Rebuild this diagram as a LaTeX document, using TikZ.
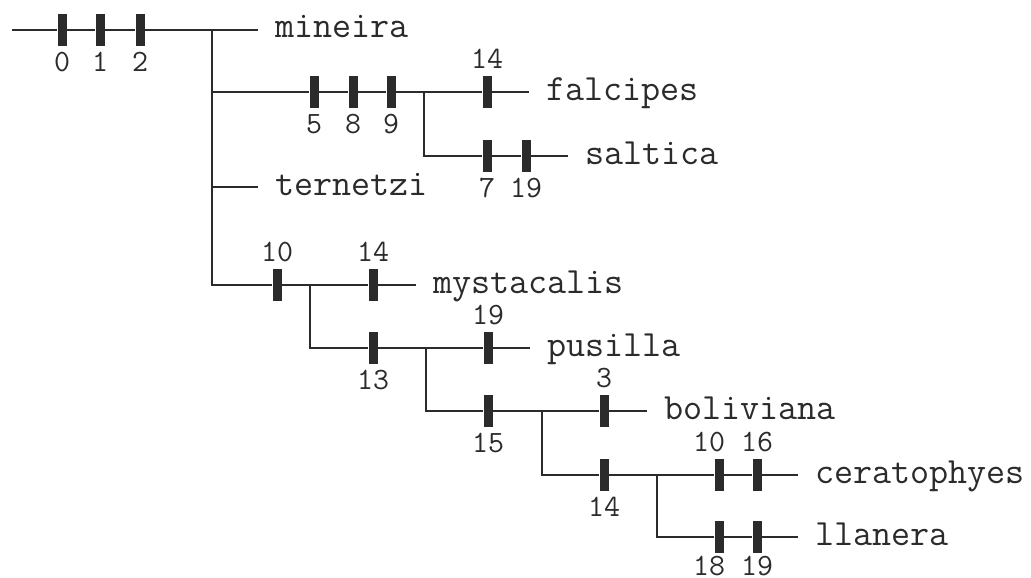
\documentclass[tikz,border=0pt]{standalone}
\usepackage{fontspec}
\definecolor{ink}{HTML}{2B2B2B}
\tikzset{
  branch/.style={draw=ink, line width=1.5pt},
  bar/.style={rectangle, fill=ink, minimum width=9pt, minimum height=32pt, inner sep=0pt},
  num/.style={font=\ttfamily\fontsize{31}{33}\selectfont, text=ink, inner sep=0pt, text depth=0pt},
  up/.style={label={[num, label distance=7pt]above:#1}},
  dn/.style={label={[num, label distance=6pt]below:#1}},
  upl/.style={label={[num, label distance=7pt, xshift=-10pt]above:#1}},
  dnlow/.style={label={[num, label distance=3pt]below:#1}},
  dnlowl/.style={label={[num, label distance=3pt, xshift=-10pt]below:#1}},
  taxon/.style={anchor=base west, font=\ttfamily\fontsize{37}{40}\selectfont, text=ink, inner xsep=17pt, inner ysep=0pt},
}
\begin{document}
\begin{tikzpicture}[x=1pt, y=-1pt]
\useasboundingbox (0,0) rectangle (1031,578);

% character-state bars
\node[bar, dn=0] (b0) at (62,30) {};
\node[bar, dn=1] (b1) at (100,30) {};
\node[bar, dn=2] (b2) at (140,30) {};

\node[bar, dn=5] (b5) at (314,92) {};
\node[bar, dn=8] (b8) at (353,92) {};
\node[bar, dn=9] (b9) at (391,92) {};
\node[bar, up=14] (b14a) at (487,92) {};

\node[bar, dn=7] (b7) at (487,156) {};
\node[bar, dn=19] (b19a) at (526,156) {};

\node[bar, up=10] (b10a) at (277,285) {};
\node[bar, up=14] (b14b) at (373,285) {};

\node[bar, dn=13] (b13) at (373,348) {};
\node[bar, up=19] (b19b) at (488,348) {};

\node[bar, dn=15] (b15) at (488,411) {};
\node[bar, up=3] (b3) at (604,411) {};

\node[bar, dn=14] (b14c) at (604,475) {};
\node[bar, upl=10] (b10b) at (719,475) {};
\node[bar, up=16] (b16) at (757,475) {};

\node[bar, dnlowl=18] (b18) at (719,537) {};
\node[bar, dnlow=19] (b19c) at (757,537) {};

% terminal taxa (baseline sits 8pt under the branch)
\node[taxon] (mineira) at (258,38) {mineira};
\node[taxon] (falcipes) at (529,100) {falcipes};
\node[taxon] (saltica) at (568,164) {saltica};
\node[taxon] (ternetzi) at (258,195) {ternetzi};
\node[taxon] (mystacalis) at (416,293) {mystacalis};
\node[taxon] (pusilla) at (530,356) {pusilla};
\node[taxon] (boliviana) at (647,419) {boliviana};
\node[taxon] (ceratophyes) at (798,483) {ceratophyes};
\node[taxon] (llanera) at (798,545) {llanera};

% branching points
\coordinate (root) at (12,30);
\coordinate (j1) at (212,30);
\coordinate (j2) at (424,92);
\coordinate (j3) at (310,285);
\coordinate (j4) at (426,348);
\coordinate (j5) at (542,411);
\coordinate (j6) at (657,475);

% branches
\draw[branch] (root) -- (b0);
\draw[branch] (b0) -- (b1);
\draw[branch] (b1) -- (b2);
\draw[branch] (b2) -- (b2 -| mineira.base west);
\draw[branch] (j1) |- (b5);
\draw[branch] (j1) |- (ternetzi.base west |- 0,187);
\draw[branch] (j1) |- (b10a);

\draw[branch] (b5) -- (b8);
\draw[branch] (b8) -- (b9);
\draw[branch] (b9) -- (b14a);
\draw[branch] (b14a) -- (b14a -| falcipes.base west);
\draw[branch] (j2) |- (b7);
\draw[branch] (b7) -- (b19a);
\draw[branch] (b19a) -- (b19a -| saltica.base west);

\draw[branch] (b10a) -- (b14b);
\draw[branch] (b14b) -- (b14b -| mystacalis.base west);
\draw[branch] (j3) |- (b13);
\draw[branch] (b13) -- (b19b);
\draw[branch] (b19b) -- (b19b -| pusilla.base west);
\draw[branch] (j4) |- (b15);
\draw[branch] (b15) -- (b3);
\draw[branch] (b3) -- (b3 -| boliviana.base west);
\draw[branch] (j5) |- (b14c);
\draw[branch] (b14c) -- (b10b);
\draw[branch] (b10b) -- (b16);
\draw[branch] (b16) -- (b16 -| ceratophyes.base west);
\draw[branch] (j6) |- (b18);
\draw[branch] (b18) -- (b19c);
\draw[branch] (b19c) -- (b19c -| llanera.base west);
\end{tikzpicture}
\end{document}
